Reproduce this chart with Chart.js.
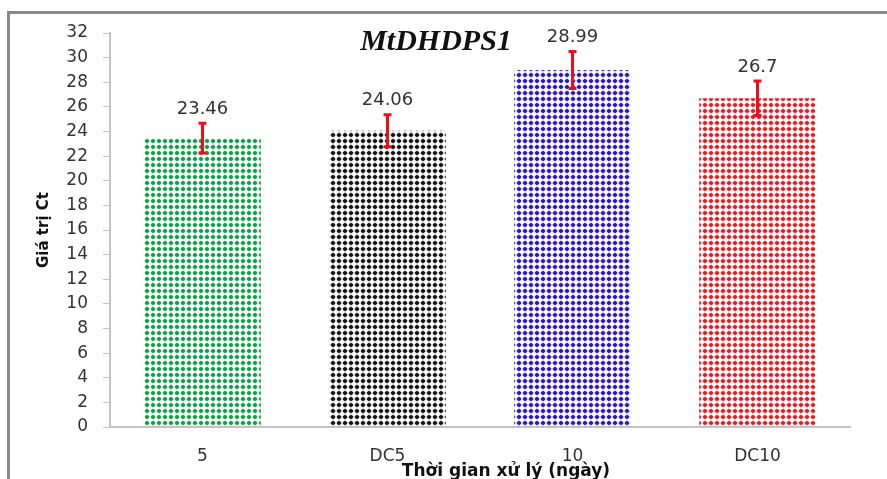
<!DOCTYPE html>
<html>
<head>
<meta charset="utf-8">
<script src="https://cdn.jsdelivr.net/npm/chart.js@4.4.0/dist/chart.umd.min.js"></script>
<style>
  html, body { margin: 0; padding: 0; background: #fff; overflow: hidden; }
  #wrap { position: relative; width: 887px; height: 479px; overflow: hidden; }
  #frame { position: absolute; left: 7px; top: 11px; width: 1000px; height: 600px;
           border-top: 3px solid #8a8a8a; border-left: 3px solid #8a8a8a; }
  canvas { position: absolute; left: 0; top: 0; }
</style>
</head>
<body>
<div id="wrap">
  <div id="frame"></div>
  <canvas id="ct_chart" width="887" height="479"></canvas>
</div>
<script>
// Chart data
const categories = ["5", "DC5", "10", "DC10"];
const ct_values = [23.46, 24.06, 28.99, 26.7];
const ct_errors = [1.2, 1.3, 1.5, 1.4];
const bar_colors = ["#0f9d48", "#111111", "#2a14c4", "#e31b23"];

const chart_title = "MtDHDPS1";
const x_title = "Thời gian xử lý (ngày)";
const y_title = "Giá trị Ct";

const ctx = document.getElementById("ct_chart").getContext("2d");

// dotted fill like the excel pattern
function makePattern(color){
	const c = document.createElement("canvas");
	c.width = 6; c.height = 6;
	const g = c.getContext("2d");
	g.fillStyle = color;
	g.globalAlpha = 0.35;
	g.fillRect(0, 2.5, 6, 1);
	g.fillRect(2.5, 0, 1, 6);
	g.globalAlpha = 1;
	g.beginPath();
	g.arc(3, 3, 2.1, 0, Math.PI * 2);
	g.fill();
	return g.createPattern(c, "repeat");
}

// error bars + value labels
const errorBarPlugin = {
	id: "errorBars",
	afterDatasetsDraw(chart){
		const c = chart.ctx;
		const y = chart.scales.y;
		const meta = chart.getDatasetMeta(0);
		meta.data.forEach( (bar, i) => {
			const top = y.getPixelForValue(ct_values[i] + ct_errors[i]);
			const bot = y.getPixelForValue(ct_values[i] - ct_errors[i]);
			c.save();
			c.strokeStyle = "#e8101a";
			c.lineWidth = 3;
			c.beginPath();
			c.moveTo(bar.x, top); c.lineTo(bar.x, bot);
			c.moveTo(bar.x - 4, top); c.lineTo(bar.x + 4, top);
			c.moveTo(bar.x - 4, bot); c.lineTo(bar.x + 4, bot);
			c.stroke();
			c.fillStyle = "#333";
			c.font = "18px 'DejaVu Sans'";
			c.textAlign = "center";
			c.textBaseline = "middle";
			c.fillText(String(ct_values[i]), bar.x, top - 14);
			c.restore();
		});
	}
};

// title and x axis title
const titlesPlugin = {
	id: "titles",
	afterDraw(chart){
		const c = chart.ctx;
		c.save();
		c.fillStyle = "#111";
		c.font = "bold italic 30px 'Liberation Serif'";
		c.textAlign = "center";
		c.textBaseline = "alphabetic";
		c.fillText(chart_title, 436, 50);
		c.font = "bold 17px 'DejaVu Sans'";
		c.textBaseline = "middle";
		c.fillText(x_title, 506, 472);
		c.restore();
	}
};

let my_chart = new Chart(ctx, {
	type: "bar",
	data: {
		labels: categories,
		datasets: [{
			data: ct_values,
			backgroundColor: bar_colors.map(makePattern),
			borderWidth: 0,
			categoryPercentage: 1,
			barPercentage: 0.63
		}]
	},
	options: {
		responsive: false,
		animation: false,
		layout: { padding: { top: 33, right: 37, left: 0, bottom: 0 } },
		plugins: {
			legend: { display: false },
			tooltip: { enabled: false }
		},
		scales: {
			x: {
				grid: { display: false, drawTicks: false },
				border: { display: true, color: "#c4c4c4", width: 2 },
				ticks: { color: "#333", padding: 19, font: { family: "DejaVu Sans", size: 17 } },
				afterFit(scale){ scale.height = 52; }
			},
			y: {
				min: 0,
				max: 32,
				ticks: { stepSize: 2, color: "#333", padding: 15, font: { family: "DejaVu Sans", size: 17 } },
				grid: { drawOnChartArea: false, drawTicks: true, tickLength: 7, color: "#c4c4c4" },
				border: { display: true, color: "#c4c4c4", width: 2 },
				title: {
					display: true,
					text: y_title,
					color: "#111",
					padding: { top: 35, bottom: 0 },
					font: { family: "DejaVu Sans", size: 15, weight: "bold" }
				},
				afterFit(scale){ scale.width = 110; }
			}
		}
	},
	plugins: [errorBarPlugin, titlesPlugin]
});
</script>
</body>
</html>
